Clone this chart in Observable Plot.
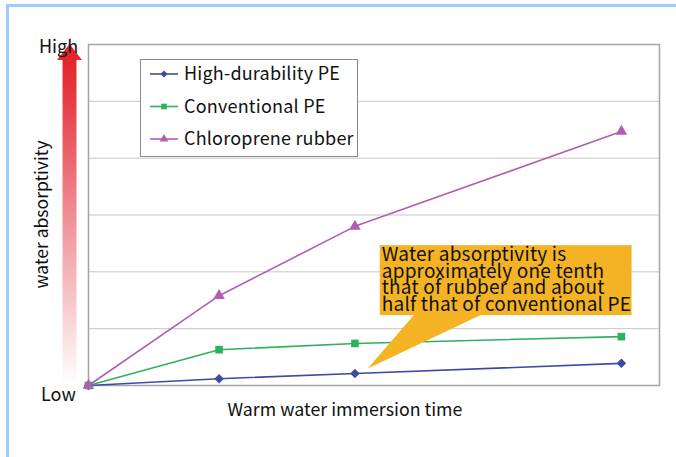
<!DOCTYPE html>
<html><head><meta charset="utf-8">
<script src="https://cdn.jsdelivr.net/npm/d3@7"></script>
<script src="https://cdn.jsdelivr.net/npm/@observablehq/plot@0.6"></script>
<style>
body{margin:0;background:#fff}
#chart svg{display:block}
</style>
</head><body><div id="chart"></div>
<script>
const seriesNames = ["High-durability PE", "Conventional PE", "Chloroprene rubber"];
const times = [0, 0.98, 2, 4];
const highDurability = [0, 0.12, 0.21, 0.39];
const conventional = [0, 0.63, 0.74, 0.86];
const chloroprene = [0, 1.58, 2.80, 4.47];
const seriesColors = ["#3b4ca2", "#2eb15c", "#b25cb4"];
const seriesSymbols = ["diamond2", "square", "triangle"];
const yGrid = [1, 2, 3, 4, 5];
const yLabel = "water absorptivity";
const xLabel = "Warm water immersion time";
const highLabel = "High";
const lowLabel = "Low";
const noteLines = ["Water absorptivity is", "approximately one tenth", "that of rubber and about", "half that of conventional PE"];
const noteTarget = {t: 2.1, v: 0.29};
const noteBox = {t0: 2.19, t1: 4.08, v0: 2.46, v1: 1.23};

const seriesValues = [highDurability, conventional, chloroprene];
const rows = seriesNames.flatMap((s, k) => times.map((t, i) => ({series: s, t, v: seriesValues[k][i]})));

const FONT = "'Noto Sans CJK JP', 'Noto Sans', sans-serif";

function callout(index, {x, y}) {
  const g = d3.create("svg:g");
  const bx0 = x(noteBox.t0), bx1 = x(noteBox.t1), by0 = y(noteBox.v0), by1 = y(noteBox.v1);
  const tx = x(noteTarget.t), ty = y(noteTarget.v);
  g.append("rect").attr("x", bx0).attr("y", by0).attr("width", bx1 - bx0).attr("height", by1 - by0).attr("fill", "#f4b324");
  g.append("path").attr("d", `M${bx0 + 35},${by1 - 1}L${tx},${ty}L${bx0 + 103},${by1 - 1}Z`).attr("fill", "#f4b324");
  const t = g.append("text").attr("font-size", 19).attr("fill", "#111").attr("font-family", FONT)
    .attr("text-anchor", "start").attr("letter-spacing", 0.2);
  noteLines.forEach((line, i) => {
    t.append("tspan").attr("x", bx0 + 2).attr("y", by0 + 16 + i * 16.5).text(line);
  });
  return g.node();
}

function decor(index, {x, y}) {
  const g = d3.create("svg:g").attr("text-anchor", "start");
  const defs = g.append("defs");
  const grad = defs.append("linearGradient").attr("id", "arrowGrad").attr("x1", 0).attr("y1", 0).attr("x2", 0).attr("y2", 1);
  grad.append("stop").attr("offset", "0").attr("stop-color", "#e41f26");
  grad.append("stop").attr("offset", "0.12").attr("stop-color", "#e5323a");
  grad.append("stop").attr("offset", "0.5").attr("stop-color", "#ef8e94");
  grad.append("stop").attr("offset", "1").attr("stop-color", "#ffffff");
  const top = y(6), bottom = y(0);
  g.append("path")
    .attr("d", `M69.5,${top}L82,${top + 16}L76.5,${top + 16}L76.5,${bottom}L62.5,${bottom}L62.5,${top + 16}L57,${top + 16}Z`)
    .attr("fill", "url(#arrowGrad)");
  // outer light-blue border
  g.append("path").attr("d", "M7.5,457V5.5H676").attr("fill", "none").attr("stroke", "#9dcbfb").attr("stroke-width", 3);
  // labels
  g.append("text").attr("x", 39).attr("y", 53).attr("font-size", 18).attr("fill", "#111").attr("font-family", FONT).text(highLabel);
  g.append("text").attr("x", 41).attr("y", 401).attr("font-size", 18).attr("fill", "#111").attr("font-family", FONT).text(lowLabel);
  g.append("text").attr("transform", `translate(48,${(top + bottom) / 2}) rotate(-90)`).attr("text-anchor", "middle")
    .attr("font-size", 17.5).attr("fill", "#111").attr("font-family", FONT).text(yLabel);
  g.append("text").attr("x", 345).attr("y", 416).attr("text-anchor", "middle")
    .attr("font-size", 17.8).attr("fill", "#111").attr("font-family", FONT).text(xLabel);
  // legend
  const lg = g.append("g");
  lg.append("rect").attr("x", 140.5).attr("y", 59.5).attr("width", 217).attr("height", 97).attr("fill", "#fff").attr("stroke", "#8a8a8a");
  const symMap = {diamond2: d3.symbolDiamond2, square: d3.symbolSquare, triangle: d3.symbolTriangle};
  seriesNames.forEach((s, i) => {
    const cy = 74 + i * 32.5;
    lg.append("line").attr("x1", 150).attr("x2", 178).attr("y1", cy).attr("y2", cy).attr("stroke", seriesColors[i]).attr("stroke-width", 1.6);
    lg.append("path").attr("transform", `translate(164,${cy})`).attr("d", d3.symbol(symMap[seriesSymbols[i]], 32)()).attr("fill", seriesColors[i]);
    lg.append("text").attr("x", 184).attr("y", cy + 6).attr("font-size", 18).attr("letter-spacing", 0.2).attr("fill", "#111").attr("font-family", FONT).text(s);
  });
  return g.node();
}

const chart = Plot.plot({
  width: 676,
  height: 457,
  marginLeft: 88,
  marginRight: 17,
  marginTop: 44,
  marginBottom: 72,
  style: {fontFamily: FONT, background: "#fff"},
  x: {domain: [0, 4.286], axis: null},
  y: {domain: [0, 6], axis: null},
  color: {domain: seriesNames, range: seriesColors},
  symbol: {domain: seriesNames, range: seriesSymbols},
  marks: [
    Plot.gridY(yGrid, {stroke: "#c6c6c6", strokeOpacity: 1, strokeWidth: 1}),
    Plot.frame({stroke: "#a4a4a4", strokeWidth: 1.5}),
    Plot.line(rows, {x: "t", y: "v", z: "series", stroke: "series", strokeWidth: 1.6}),
    callout,
    Plot.dot(rows, {x: "t", y: "v", symbol: "series", fill: "series", r: 4.3, stroke: "none"}),
    decor
  ]
});
document.getElementById("chart").appendChild(chart);
</script>
</body></html>
